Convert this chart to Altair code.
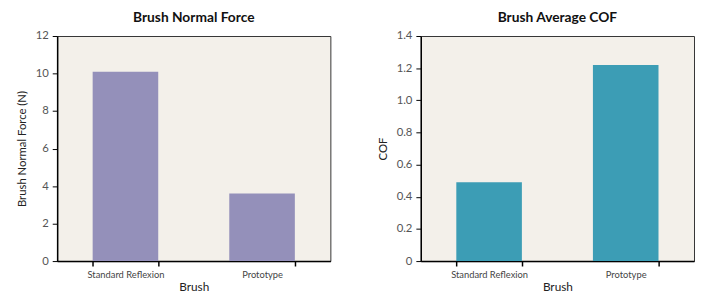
import altair as alt
import pandas as pd

brushes = ["Standard Reflexion", "Prototype"]
normal_force = [10.1, 3.6]
avg_cof = [0.49, 1.22]

df1 = pd.DataFrame({"Brush": brushes, "Force": normal_force})
df2 = pd.DataFrame({"Brush": brushes, "COF": avg_cof})

FONT = "Lato"

def xaxis():
    return alt.Axis(title="Brush", labelAngle=0, tickBand="extent", labelFontSize=9.5,
                    labelColor="#444", titleFontSize=12, titleFontWeight="normal",
                    titleColor="#222", domainColor="#000", domainWidth=1.5,
                    tickColor="#000", tickWidth=1.5, tickSize=5, labelPadding=4,
                    titlePadding=2)

def yaxis(title, vals, expr):
    return alt.Axis(title=title, values=vals, labelExpr=expr, grid=False, labelFontSize=11.5,
                    labelColor="#555", titleFontSize=11.5, titleFontWeight="normal",
                    titleColor="#222", domainColor="#000", domainWidth=1.5,
                    tickColor="#000", tickWidth=1, tickSize=5, labelPadding=4,
                    titlePadding=8)

xscale = alt.Scale(paddingInner=0.52, paddingOuter=0.26)

c1 = alt.Chart(df1).mark_bar(color="#9490BA").encode(
    x=alt.X("Brush:N", sort=brushes, scale=xscale, axis=xaxis()),
    y=alt.Y("Force:Q", scale=alt.Scale(domain=[0, 12], nice=False),
            axis=yaxis("Brush Normal Force (N)", [0, 2, 4, 6, 8, 10, 12], "format(datum.value, 'd')")),
).properties(width=278, height=229, title="Brush Normal Force")

c2 = alt.Chart(df2).mark_bar(color="#3C9DB5").encode(
    x=alt.X("Brush:N", sort=brushes, scale=xscale, axis=xaxis()),
    y=alt.Y("COF:Q", scale=alt.Scale(domain=[0, 1.4], nice=False),
            axis=yaxis("COF", [0, 0.2, 0.4, 0.6, 0.8, 1.0, 1.2, 1.4],
                       "datum.value == 0 ? '0' : format(datum.value, '.1f')")),
).properties(width=278, height=229, title="Brush Average COF")

chart = alt.hconcat(c1, c2, spacing=46).configure_view(
    fill="#F3F0EA", stroke="#333", strokeWidth=1
).configure_title(
    font=FONT, fontSize=14, fontWeight="bold", color="#111", offset=5
).configure_axis(
    labelFont=FONT, titleFont=FONT
).properties(padding={"left": 8, "top": 0, "right": 0, "bottom": 0})

chart.save("out.html", embed_options={"renderer": "svg", "actions": False})
